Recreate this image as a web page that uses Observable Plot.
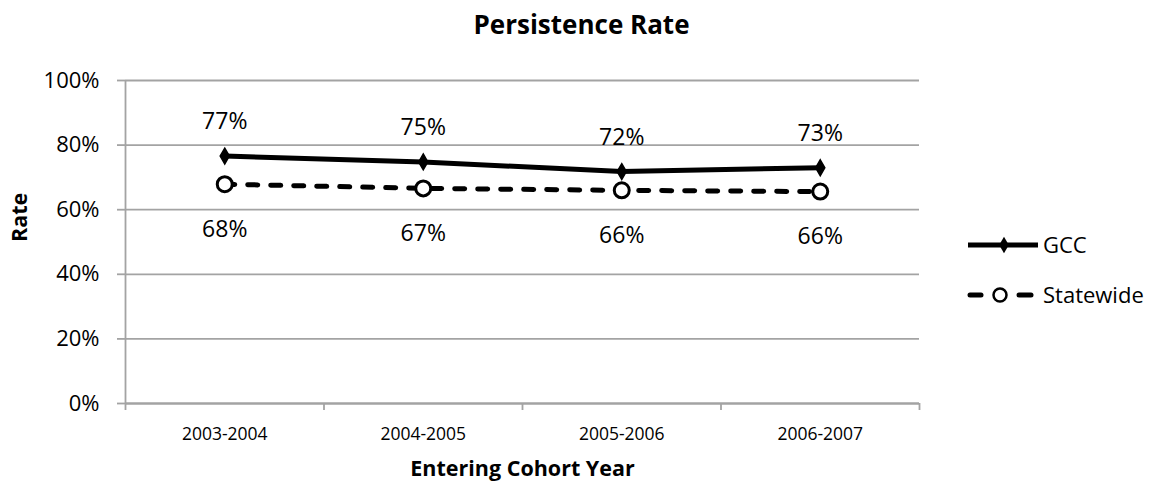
<!DOCTYPE html>
<html>
<head>
<meta charset="utf-8">
<script src="https://cdn.jsdelivr.net/npm/d3@7"></script>
<script src="https://cdn.jsdelivr.net/npm/@observablehq/plot@0.6"></script>
<style>
  html, body { margin: 0; padding: 0; background: white; }
  #wrap { position: relative; width: 1158px; height: 487px; font-family: "Open Sans", sans-serif; }
  #legend { position: absolute; left: 0; top: 0; }
</style>
</head>
<body>
<div id="wrap"></div>
<script>
const categories = ["2003-2004", "2004-2005", "2005-2006", "2006-2007"];
const gccValues = [0.766, 0.748, 0.718, 0.730];
const statewideValues = [0.679, 0.666, 0.660, 0.656];
const yTicks = [0, 0.2, 0.4, 0.6, 0.8, 1.0];
const seriesNames = ["GCC", "Statewide"];
const chartTitle = "Persistence Rate";
const xTitle = "Entering Cohort Year";
const yTitle = "Rate";

const idx = categories.map((c, i) => i);
const boundaries = d3.range(categories.length + 1).map(i => i - 0.5);
const gcc = categories.map((c, i) => ({i, category: c, value: gccValues[i]}));
const sw = categories.map((c, i) => ({i, category: c, value: statewideValues[i]}));
const pct = d3.format(".0%");
const FONT = "Open Sans";
const GRID = "#a3a3a3";

const chart = Plot.plot({
  width: 1158,
  height: 487,
  marginLeft: 125,
  marginRight: 239,
  marginTop: 80,
  marginBottom: 84,
  x: {type: "linear", domain: [-0.5, categories.length - 0.5]},
  y: {domain: [0, 1]},
  style: {fontFamily: FONT, background: "white", color: "black"},
  marks: [
    Plot.gridY(yTicks, {stroke: GRID, strokeOpacity: 1, strokeWidth: 1.8}),
    Plot.ruleX([-0.5], {stroke: GRID, strokeWidth: 1.8}),
    Plot.ruleY([0], {stroke: GRID, strokeWidth: 1.8}),
    Plot.axisY(yTicks, {tickFormat: pct, tickSize: 8, tickPadding: 18, stroke: GRID, strokeWidth: 1.8, fill: "black", fontSize: 22, label: null}),
    Plot.axisX(boundaries, {tickFormat: () => "", tickSize: 7, stroke: GRID, strokeWidth: 1.8, label: null}),
    Plot.axisX(idx, {tickFormat: i => categories[i], tickSize: 0, tickPadding: 24, fill: "black", fontSize: 17.5, label: null}),
    Plot.line(gcc, {x: "i", y: "value", stroke: "black", strokeWidth: 5}),
    Plot.line(sw, {x: "i", y: "value", stroke: "black", strokeWidth: 5, strokeDasharray: "10,13", strokeLinecap: "round"}),
    Plot.dot(gcc, {x: "i", y: "value", symbol: "diamond", r: 4.8, fill: "black", stroke: "black"}),
    Plot.dot(sw, {x: "i", y: "value", symbol: "circle", r: 7.5, fill: "white", stroke: "black", strokeWidth: 3}),
    Plot.text(gcc, {x: "i", y: "value", text: d => pct(d.value), dy: -34, fontSize: 23, fill: "black"}),
    Plot.text(sw, {x: "i", y: "value", text: d => pct(d.value), dy: 45, fontSize: 23, fill: "black"}),
    Plot.text([chartTitle], {frameAnchor: "top", lineAnchor: "middle", dx: 59, dy: -55, fontSize: 26, fontWeight: "bold", fill: "black"}),
    Plot.text([xTitle], {frameAnchor: "bottom", lineAnchor: "middle", dy: 66, fontSize: 21.5, fontWeight: "bold", fill: "black"}),
    Plot.text([yTitle], {frameAnchor: "left", lineAnchor: "middle", dx: -105, dy: 0, rotate: -90, fontSize: 21.5, fontWeight: "bold", fill: "black"})
  ]
});
document.getElementById("wrap").appendChild(chart);

// Legend (drawn as inline SVG over the chart)
const legend = d3.create("svg")
  .attr("id", "legend")
  .attr("width", 1158).attr("height", 487)
  .style("pointer-events", "none");
const lg = legend.append("g").attr("font-family", FONT).attr("font-size", 22);
// GCC entry
const y1 = 245;
lg.append("line").attr("x1", 968).attr("x2", 1038).attr("y1", y1).attr("y2", y1).attr("stroke", "black").attr("stroke-width", 5);
lg.append("path").attr("d", d3.symbol(d3.symbolDiamond, 80)()).attr("transform", `translate(1004,${y1})`).attr("fill", "black");
lg.append("text").attr("x", 1043).attr("y", y1).attr("dy", "0.35em").text(seriesNames[0]);
// Statewide entry
const y2 = 295;
lg.append("line").attr("x1", 970).attr("x2", 981).attr("y1", y2).attr("y2", y2).attr("stroke", "black").attr("stroke-width", 5).attr("stroke-linecap", "round");
lg.append("line").attr("x1", 1019).attr("x2", 1031).attr("y1", y2).attr("y2", y2).attr("stroke", "black").attr("stroke-width", 5).attr("stroke-linecap", "round");
lg.append("circle").attr("cx", 1000).attr("cy", y2).attr("r", 6.5).attr("fill", "white").attr("stroke", "black").attr("stroke-width", 2.5);
lg.append("text").attr("x", 1043).attr("y", y2).attr("dy", "0.35em").text(seriesNames[1]);
document.getElementById("wrap").appendChild(legend.node());
</script>
</body>
</html>
